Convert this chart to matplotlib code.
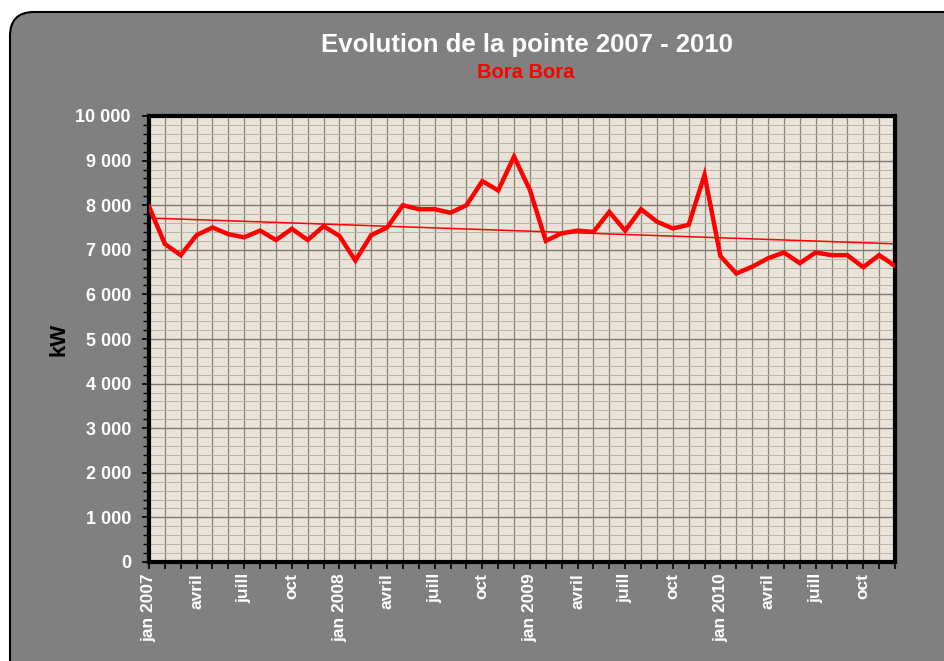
import numpy as np
import matplotlib
matplotlib.use("Agg")
import matplotlib.pyplot as plt
from matplotlib.patches import FancyBboxPatch
from matplotlib.transforms import IdentityTransform
from matplotlib.ticker import MultipleLocator, FuncFormatter

plt.rcParams['font.family'] = ['Liberation Sans', 'DejaVu Sans']

title = "Evolution de la pointe 2007 - 2010"
subtitle = "Bora Bora"
ylabel = "kW"

tick_labels = ["jan 2007", "avril", "juill", "oct",
               "jan 2008", "avril", "juill", "oct",
               "jan 2009", "avril", "juill", "oct",
               "jan 2010", "avril", "juill", "oct"]

pointe_kw = [7970, 7130, 6880, 7330, 7500, 7350, 7280, 7430, 7220, 7470, 7220, 7530,
             7310, 6760, 7330, 7500, 8000, 7910, 7910, 7830, 8000, 8540, 8330, 9090,
             8340, 7200, 7370, 7430, 7400, 7850, 7430, 7910, 7630, 7480, 7560, 8680,
             6860, 6470, 6620, 6810, 6940, 6700, 6940, 6880, 6880, 6610, 6880, 6640]

W, H = 945, 661
fig = plt.figure(figsize=(W / 100, H / 100), dpi=100)
fig.patch.set_facecolor("white")

# rounded gray chart background
bg = FancyBboxPatch((10, -40), 1000, H - 12 + 40,
                    boxstyle="round,pad=0,rounding_size=24",
                    transform=IdentityTransform(), facecolor="#808080",
                    edgecolor="black", linewidth=1.5, zorder=-10)
fig.patches.append(bg)

ax = fig.add_axes([149 / W, (H - 562) / H, (895 - 149) / W, (562 - 116) / H])
ax.set_zorder(1)
ax.set_facecolor("#e9e3d9")

x = np.arange(len(pointe_kw))
ax.plot(x, pointe_kw, color="#ff0000", linewidth=3.2, solid_joinstyle="miter", zorder=3)

# linear trend line
coef = np.polyfit(x, pointe_kw, 1)
ax.plot(x, np.polyval(coef, x), color="#ff0000", linewidth=1.1, zorder=2.5)

ax.set_xlim(0, len(pointe_kw) - 1)
ax.set_ylim(0, 10000)

ax.set_xticks(np.arange(0, len(pointe_kw), 3))
ax.set_xticklabels(tick_labels, rotation=90, color="white",
                   fontsize=12.5, fontweight="bold")
ax.xaxis.set_minor_locator(MultipleLocator(1))
ax.yaxis.set_major_locator(MultipleLocator(1000))
ax.yaxis.set_minor_locator(MultipleLocator(200))
ax.yaxis.set_major_formatter(FuncFormatter(lambda v, p: f"{int(v):,}".replace(",", " ")))
for lab in ax.get_yticklabels():
    lab.set_color("white")
    lab.set_fontsize(13)
    lab.set_fontweight("bold")

ax.grid(which="major", axis="y", color="#7f7a70", linewidth=1.0, zorder=1)
ax.grid(which="minor", axis="y", color="#bdb5a8", linewidth=0.7, zorder=1)
ax.grid(which="both", axis="x", color="#8a8478", linewidth=0.9, zorder=1)
ax.set_axisbelow(True)

ax.tick_params(axis="both", which="both", direction="out", color="black")
ax.tick_params(axis="x", which="both", length=5, width=1.2, pad=3)
ax.tick_params(axis="y", which="major", length=5, width=1.2, pad=8)
ax.tick_params(axis="y", which="minor", length=4, width=1.0)

for s in ax.spines.values():
    s.set_color("black")
    s.set_linewidth(3)

ax.set_ylabel(ylabel, fontsize=16, fontweight="bold", color="black")
ax.yaxis.set_label_coords(-0.106, 0.5)

fig.text(527 / W, 1 - 45 / H, title, ha="center", va="center",
         fontsize=18.5, fontweight="bold", color="white")
fig.text(526 / W, 1 - 72 / H, subtitle, ha="center", va="center",
         fontsize=14.5, fontweight="bold", color="#ff0000")

fig.savefig("out.png", dpi=100)
